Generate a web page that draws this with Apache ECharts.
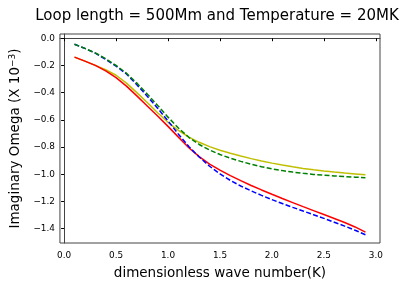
<!DOCTYPE html>
<html>
<head>
<meta charset="utf-8">
<script src="https://cdn.jsdelivr.net/npm/echarts@6/dist/echarts.min.js"></script>
<style>html,body{margin:0;padding:0;background:#fff}#c{width:409px;height:285px}</style>
</head>
<body>
<div id="c"></div>
<script>
var kValues = [0.1,0.2,0.3,0.4,0.5,0.6,0.7,0.8,0.9,1.0,1.1,1.2,1.3,1.4,1.5,1.6,1.7,1.8,1.9,2.0,2.1,2.2,2.3,2.4,2.5,2.6,2.7,2.8,2.9];
var redSeries = [-0.139,-0.168,-0.200,-0.240,-0.290,-0.352,-0.424,-0.498,-0.572,-0.648,-0.727,-0.805,-0.870,-0.925,-0.970,-1.010,-1.047,-1.082,-1.115,-1.147,-1.178,-1.208,-1.238,-1.267,-1.296,-1.325,-1.354,-1.387,-1.425];
var yellowSeries = [-0.139,-0.168,-0.200,-0.232,-0.272,-0.330,-0.400,-0.473,-0.548,-0.618,-0.678,-0.727,-0.765,-0.797,-0.823,-0.846,-0.866,-0.885,-0.902,-0.918,-0.932,-0.945,-0.957,-0.967,-0.976,-0.984,-0.991,-0.997,-1.003];
var greenSeries = [-0.044,-0.075,-0.108,-0.150,-0.200,-0.257,-0.330,-0.410,-0.494,-0.580,-0.660,-0.728,-0.781,-0.822,-0.855,-0.882,-0.905,-0.926,-0.944,-0.960,-0.973,-0.984,-0.993,-1.001,-1.007,-1.012,-1.017,-1.021,-1.025];
var blueSeries = [-0.044,-0.075,-0.110,-0.155,-0.205,-0.263,-0.342,-0.426,-0.514,-0.608,-0.705,-0.796,-0.873,-0.941,-0.997,-1.045,-1.086,-1.122,-1.155,-1.186,-1.215,-1.243,-1.270,-1.297,-1.324,-1.352,-1.381,-1.411,-1.444];
var xTicks = [0,0.5,1.0,1.5,2.0,2.5,3.0];
var yTicks = [0,-0.2,-0.4,-0.6,-0.8,-1.0,-1.2,-1.4];

function pairs(ys){ return kValues.map(function(x,i){ return [x, ys[i]]; }); }
function fmt(v){ var s = v.toFixed(1); return s.charAt(0)==='-' ? '\u2212'+s.slice(1) : s; }
var FONT = 'DejaVu Sans';
function line(data, color, dashed){
  return { type:'line', data:pairs(data), showSymbol:false, symbol:'none', smooth:false, animation:false,
    lineStyle:{ color:color, width:1.5, type: dashed ? [5,2.3] : 'solid' }, z:2 };
}
var chart = echarts.init(document.getElementById('c'), null, {renderer:'canvas'});
chart.setOption({
  animation:false,
  backgroundColor:'#fff',
  title:{ text:'Loop length = 500Mm and Temperature = 20MK', left:212, top:4, textAlign:'center',
    textStyle:{ fontFamily:FONT, fontSize:15, fontWeight:'normal', color:'#000' } },
  grid:{ left:56, right:29, top:34, bottom:42, show:true, borderColor:'#444', borderWidth:1, backgroundColor:'transparent' },
  xAxis:{ type:'value', min:-0.04, max:3.04,
    name:'dimensionless wave number(K)', nameLocation:'middle', nameGap:23,
    nameTextStyle:{ fontFamily:FONT, fontSize:13.5, color:'#000' },
    axisLine:{ show:true, lineStyle:{ color:'#444', width:1 } },
    axisTick:{ show:true, inside:false, length:3, lineStyle:{ color:'#000' }, customValues:xTicks },
    axisLabel:{ fontFamily:FONT, fontSize:8.9, color:'#000', margin:8, customValues:xTicks, formatter:function(v){return fmt(v);} },
    splitLine:{ show:false } },
  yAxis:{ type:'value', min:-1.505, max:0.031,
    name:'Imaginary Omega (X 10{sup|\u22123})', nameLocation:'middle', nameGap:32, nameRotate:90,
    nameTextStyle:{ fontFamily:FONT, fontSize:13.5, color:'#000',
      rich:{ sup:{ fontFamily:FONT, fontSize:9, color:'#000', verticalAlign:'top', padding:[0,0,6,0] } } },
    axisLine:{ show:true, lineStyle:{ color:'#444', width:1 } },
    axisTick:{ show:true, inside:false, length:3, lineStyle:{ color:'#000' }, customValues:yTicks },
    axisLabel:{ fontFamily:FONT, fontSize:8.9, color:'#000', margin:5, customValues:yTicks, formatter:function(v){return fmt(v);} },
    splitLine:{ show:false } },
  series:[
    line(yellowSeries, '#bfbf00', false),
    line(redSeries, '#ff0000', false),
    line(blueSeries, '#0000ff', true),
    line(greenSeries, '#008000', true)
  ]
});
</script>
</body>
</html>
